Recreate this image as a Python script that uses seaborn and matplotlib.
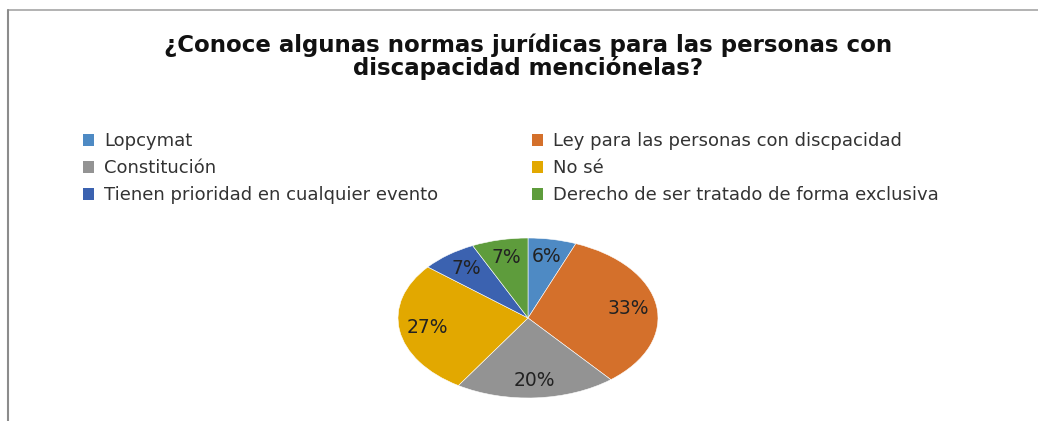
import matplotlib
matplotlib.use("Agg")
import matplotlib.pyplot as plt
from matplotlib.lines import Line2D
import seaborn as sns

categories = ["Lopcymat", "Ley para las personas con discpacidad", "Constitución",
              "No sé", "Tienen prioridad en cualquier evento",
              "Derecho de ser tratado de forma exclusiva"]
values = [6, 33, 20, 27, 7, 7]
title = "¿Conoce algunas normas jurídicas para las personas con\ndiscapacidad menciónelas?"

sns.set_theme(style="white")
plt.rcParams['font.family'] = ['DejaVu Sans']
colors = sns.color_palette(["#4E8AC4", "#D4702B", "#939393", "#E2A800", "#3B62B0", "#5E9C3C"])

W, H = 1038, 421
fig = plt.figure(figsize=(W / 100, H / 100), dpi=100)
fig.patch.set_facecolor("white")

# border lines
fig.add_artist(Line2D([8 / W, 1], [1 - 10 / H, 1 - 10 / H], color="#a6a6a6", lw=1.2))
fig.add_artist(Line2D([8 / W, 8 / W], [0, 1 - 10 / H], color="#8c8c8c", lw=1.5))

fig.text(528 / W, 1 - 57 / H, title, ha="center", va="center", fontsize=16.5,
         fontweight="bold", color="#111111", linespacing=0.95)

ax = fig.add_axes([(528 - 130) / W, (421 - 398) / H, 260 / W, 160 / H])
wedges, texts, autotexts = ax.pie(values, colors=colors, startangle=90, counterclock=False,
                                  autopct=lambda p: f"{p:.0f}%", pctdistance=0.78,
                                  wedgeprops=dict(linewidth=0.4, edgecolor="white"),
                                  textprops=dict(fontsize=13.5, color="#222222"))
ax.set_aspect("auto")
ax.set_xlim(-1, 1)
ax.set_ylim(-1, 1)
ax.axis("off")

order = [0, 2, 4, 1, 3, 5]
leg = fig.legend([wedges[i] for i in order], [categories[i] for i in order],
                 loc="upper left", bbox_to_anchor=(67 / W, 1 - 116 / H), ncol=2,
                 frameon=False, fontsize=13, handlelength=0.6, handleheight=0.6,
                 handletextpad=0.55, labelspacing=0.5, columnspacing=5.2,
                 labelcolor="#333333")
for h in leg.legend_handles:
    h.set_edgecolor("none")

fig.savefig("out.png", dpi=100, facecolor="white")
